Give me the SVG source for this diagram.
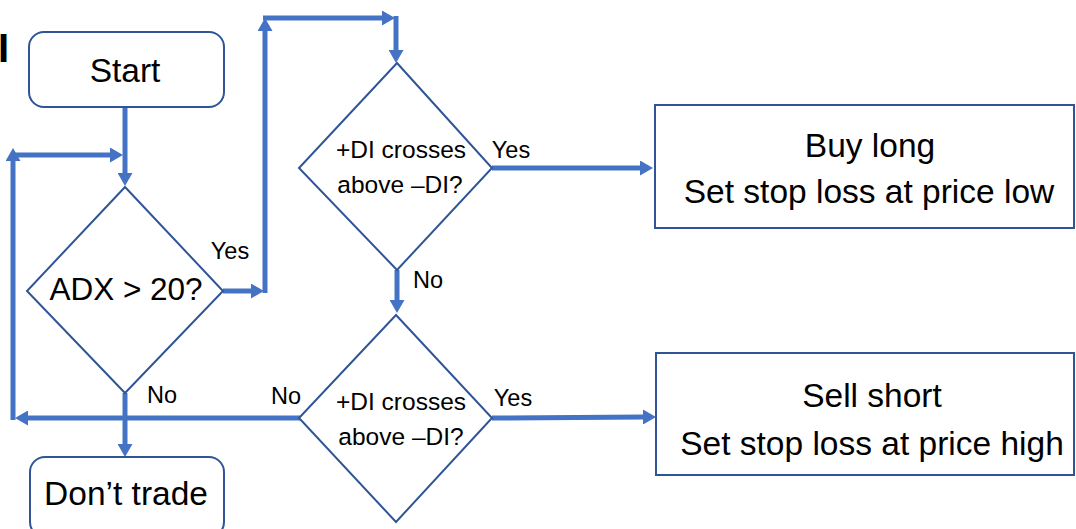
<svg xmlns="http://www.w3.org/2000/svg" width="1076" height="529" viewBox="0 0 1076 529">
<defs>
<marker id="ah" markerUnits="userSpaceOnUse" markerWidth="13" markerHeight="15" viewBox="0 0 13 15" refX="1" refY="7.5" orient="auto">
<path d="M0,0 L13,7.5 L0,15 z" fill="#4472C4"/>
</marker>
<style>
.box{fill:#fff;stroke:#2F5597;stroke-width:2}
.con{fill:none;stroke:#4472C4;stroke-width:5}
.arr{marker-end:url(#ah)}
text{font-family:"Liberation Sans",Arial,sans-serif;fill:#000;text-anchor:middle}
.big{font-size:33.5px}
.mid{font-size:31.5px}
.sm{font-size:24.5px}
.lbl{font-size:23.5px}
</style>
</defs>
<rect width="1076" height="529" fill="#fff"/>
<text x="-2" y="62" style="font-size:40px;font-weight:bold;text-anchor:start">I</text>
<g id="connectors">
<path class="con arr" d="M125,108 V174"/>
<path class="con arr" d="M300,418 H27"/>
<path class="con arr" d="M13,420 V160"/>
<path class="con arr" d="M11,155 H111"/>
<path class="con arr" d="M125,393 V445"/>
<path class="con arr" d="M223,291 H252"/>
<path class="con arr" d="M265,293 V30"/>
<path class="con arr" d="M263,18 H383"/>
<path class="con arr" d="M396,16 V51"/>
<path class="con arr" d="M492,168 H641"/>
<path class="con arr" d="M397,270 V301"/>
<path class="con arr" d="M492,418 L644,417"/>
</g>
<g id="start">
<rect class="box" x="29" y="32" width="195" height="75" rx="15"/>
<text class="big" x="125" y="82">Start</text>
</g>
<g id="adx">
<polygon class="box" points="125,187 223,291 125,393 27,291"/>
<text class="mid" x="126" y="300">ADX &gt; 20?</text>
</g>
<g id="donttrade">
<rect class="box" x="30" y="457" width="194" height="80" rx="15"/>
<text class="big" x="126" y="505">Don’t trade</text>
</g>
<g id="cross1">
<polygon class="box" points="397,63 492,168 397,270 299,168"/>
<text class="sm" x="401" y="158">+DI crosses</text>
<text class="sm" x="400" y="193">above –DI?</text>
</g>
<g id="cross2">
<polygon class="box" points="396,315 492,418 396,522 299,418"/>
<text class="sm" x="401" y="410">+DI crosses</text>
<text class="sm" x="401" y="445">above –DI?</text>
</g>
<g id="buylong">
<rect class="box" x="655" y="105" width="419" height="123"/>
<text class="big" x="870" y="157">Buy long</text>
<text class="big" x="869" y="203">Set stop loss at price low</text>
</g>
<g id="sellshort">
<rect class="box" x="656" y="353" width="418" height="122"/>
<text class="big" x="872" y="407">Sell short</text>
<text class="big" x="872" y="455">Set stop loss at price high</text>
</g>
<g id="labels">
<text class="lbl" x="230" y="259">Yes</text>
<text class="lbl" x="162" y="403">No</text>
<text class="lbl" x="511" y="158">Yes</text>
<text class="lbl" x="428" y="288">No</text>
<text class="lbl" x="286" y="404">No</text>
<text class="lbl" x="513" y="406">Yes</text>
</g>
</svg>
